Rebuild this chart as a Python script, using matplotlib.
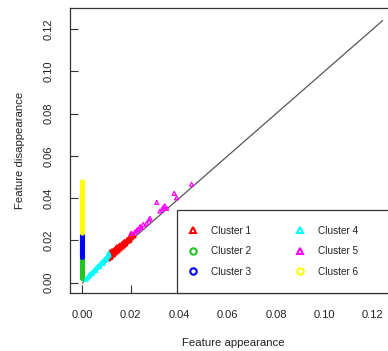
import numpy as np
import matplotlib.pyplot as plt
from matplotlib.patches import Rectangle
from matplotlib.lines import Line2D

plt.rcParams['font.family'] = ['Liberation Sans', 'DejaVu Sans']

# cluster data (feature appearance, feature disappearance)
c1_x = [0.0105, 0.0108, 0.0110, 0.0112, 0.0113, 0.0115, 0.0117, 0.0119, 0.0120, 0.0122,
        0.0124, 0.0126, 0.0128, 0.0130, 0.0132, 0.0134, 0.0136, 0.0138, 0.0140, 0.0142,
        0.0145, 0.0147, 0.0150, 0.0152, 0.0155, 0.0158, 0.0160, 0.0163, 0.0166, 0.0170,
        0.0173, 0.0176, 0.0180, 0.0184, 0.0188, 0.0192, 0.0196, 0.0200, 0.0205, 0.0210,
        0.0110, 0.0116, 0.0121, 0.0127, 0.0133, 0.0139, 0.0144, 0.0149, 0.0154, 0.0159,
        0.0164, 0.0169, 0.0174, 0.0179, 0.0186, 0.0194, 0.0202, 0.0213, 0.0118, 0.0141]
c1_y = [0.0112, 0.0125, 0.0140, 0.0118, 0.0145, 0.0132, 0.0122, 0.0146, 0.0150, 0.0130,
        0.0138, 0.0152, 0.0132, 0.0145, 0.0158, 0.0140, 0.0150, 0.0162, 0.0146, 0.0158,
        0.0168, 0.0152, 0.0164, 0.0175, 0.0160, 0.0172, 0.0178, 0.0168, 0.0180, 0.0175,
        0.0188, 0.0182, 0.0192, 0.0202, 0.0196, 0.0210, 0.0204, 0.0232, 0.0220, 0.0226,
        0.0118, 0.0128, 0.0136, 0.0142, 0.0150, 0.0155, 0.0162, 0.0170, 0.0178, 0.0170,
        0.0186, 0.0190, 0.0196, 0.0186, 0.0205, 0.0200, 0.0212, 0.0222, 0.0122, 0.0170]

c2_x = [0.0] * 20
c2_y = [0.0020, 0.0025, 0.0030, 0.0035, 0.0040, 0.0045, 0.0050, 0.0055, 0.0060, 0.0065,
        0.0070, 0.0075, 0.0080, 0.0085, 0.0090, 0.0095, 0.0100, 0.0105, 0.0110, 0.0115]

c3_x = [0.0] * 22
c3_y = [0.0120, 0.0125, 0.0130, 0.0135, 0.0140, 0.0145, 0.0150, 0.0155, 0.0160, 0.0165,
        0.0170, 0.0175, 0.0180, 0.0185, 0.0190, 0.0195, 0.0200, 0.0205, 0.0210, 0.0215,
        0.0220, 0.0228]

c4_x = [0.0015, 0.0020, 0.0025, 0.0030, 0.0035, 0.0040, 0.0045, 0.0050, 0.0055, 0.0060,
        0.0065, 0.0070, 0.0075, 0.0080, 0.0085, 0.0090, 0.0095, 0.0100, 0.0105, 0.0110,
        0.0040, 0.0055, 0.0070, 0.0085, 0.0100, 0.0108, 0.0030, 0.0062, 0.0078, 0.0093]
c4_y = [0.0017, 0.0023, 0.0030, 0.0035, 0.0042, 0.0048, 0.0054, 0.0060, 0.0066, 0.0072,
        0.0078, 0.0084, 0.0090, 0.0096, 0.0102, 0.0108, 0.0114, 0.0120, 0.0126, 0.0132,
        0.0044, 0.0059, 0.0076, 0.0092, 0.0110, 0.0140, 0.0040, 0.0075, 0.0093, 0.0110]

c5_x = [0.0203, 0.0216, 0.0223, 0.0231, 0.0238, 0.0251, 0.0265, 0.0275, 0.0279, 0.0307,
        0.0320, 0.0330, 0.0341, 0.0348, 0.0379, 0.0389, 0.0451, 0.0226, 0.0244, 0.0335]
c5_y = [0.0233, 0.0240, 0.0245, 0.0254, 0.0265, 0.0276, 0.0281, 0.0297, 0.0305, 0.0380,
        0.0339, 0.0349, 0.0364, 0.0352, 0.0423, 0.0402, 0.0466, 0.0250, 0.0262, 0.0358]

c6_x = [0.0] * 44
c6_y = [0.0235, 0.0240, 0.0245, 0.0250, 0.0255, 0.0260, 0.0265, 0.0270, 0.0275, 0.0280,
        0.0285, 0.0290, 0.0295, 0.0300, 0.0305, 0.0310, 0.0315, 0.0320, 0.0325, 0.0330,
        0.0335, 0.0340, 0.0345, 0.0350, 0.0355, 0.0360, 0.0365, 0.0370, 0.0375, 0.0380,
        0.0385, 0.0390, 0.0395, 0.0400, 0.0408, 0.0416, 0.0424, 0.0432, 0.0440, 0.0448,
        0.0456, 0.0464, 0.0471, 0.0478]

clusters = [
    ('Cluster 1', c1_x, c1_y, '^', '#FF0000'),
    ('Cluster 2', c2_x, c2_y, 'o', '#22C422'),
    ('Cluster 3', c3_x, c3_y, 'o', '#0000FF'),
    ('Cluster 4', c4_x, c4_y, '^', '#00FFFF'),
    ('Cluster 5', c5_x, c5_y, '^', '#FF00FF'),
    ('Cluster 6', c6_x, c6_y, 'o', '#FFFF00'),
]

diag = [0.0, 0.124]
ticks = [0.00, 0.02, 0.04, 0.06, 0.08, 0.10, 0.12]

fig = plt.figure(figsize=(3.88, 3.51), dpi=100)
ax = fig.add_axes([0.1814, 0.1644, 0.8418, 0.8128])

ax.plot(diag, diag, color='#555555', lw=0.9, zorder=1)
for name, xs, ys, mk, col in clusters:
    ax.scatter(xs, ys, marker=mk, s=8, facecolors='none', edgecolors=col,
               linewidths=0.9, zorder=2)

ax.set_xlim(-0.005, 0.130)
ax.set_ylim(-0.005, 0.130)
ax.set_xticks(ticks)
ax.set_yticks(ticks)
ax.set_xticklabels(['%.2f' % t for t in ticks])
ax.set_yticklabels(['%.2f' % t for t in ticks], rotation=90, va='center')
ax.tick_params(direction='in', length=5.8, width=0.8, color='#333333',
               labelsize=8, labelcolor='#222222', pad=12)
for sp in ax.spines.values():
    sp.set_color('#333333')
    sp.set_linewidth(0.9)

ax.set_xlabel('Feature appearance', fontsize=8.2, color='#222222')
ax.set_ylabel('Feature disappearance', fontsize=8.2, color='#222222')
ax.xaxis.set_label_coords(0.498, -0.157)
ax.yaxis.set_label_coords(-0.139, 0.5)

# legend box (bottom right, white background)
ax.add_patch(Rectangle((0.039, -0.005), 0.2, 0.0394, facecolor='white',
                       edgecolor='#333333', lw=0.9, zorder=5, clip_on=False))
handles = [Line2D([], [], ls='none', marker=mk, mfc='none', mec=col, mew=1.5, ms=4.6)
           for name, xs, ys, mk, col in clusters]
leg = ax.legend(handles, [c[0] for c in clusters],
                ncol=2, frameon=False, fontsize=7.2, loc='upper left',
                bbox_to_anchor=(0.348, 0.25), handletextpad=1.3,
                columnspacing=4.4, labelspacing=1.05, handlelength=1.0,
                borderaxespad=0)
leg.set_zorder(6)
for t in leg.get_texts():
    t.set_color('#222222')

fig.savefig('out.png', dpi=100)
